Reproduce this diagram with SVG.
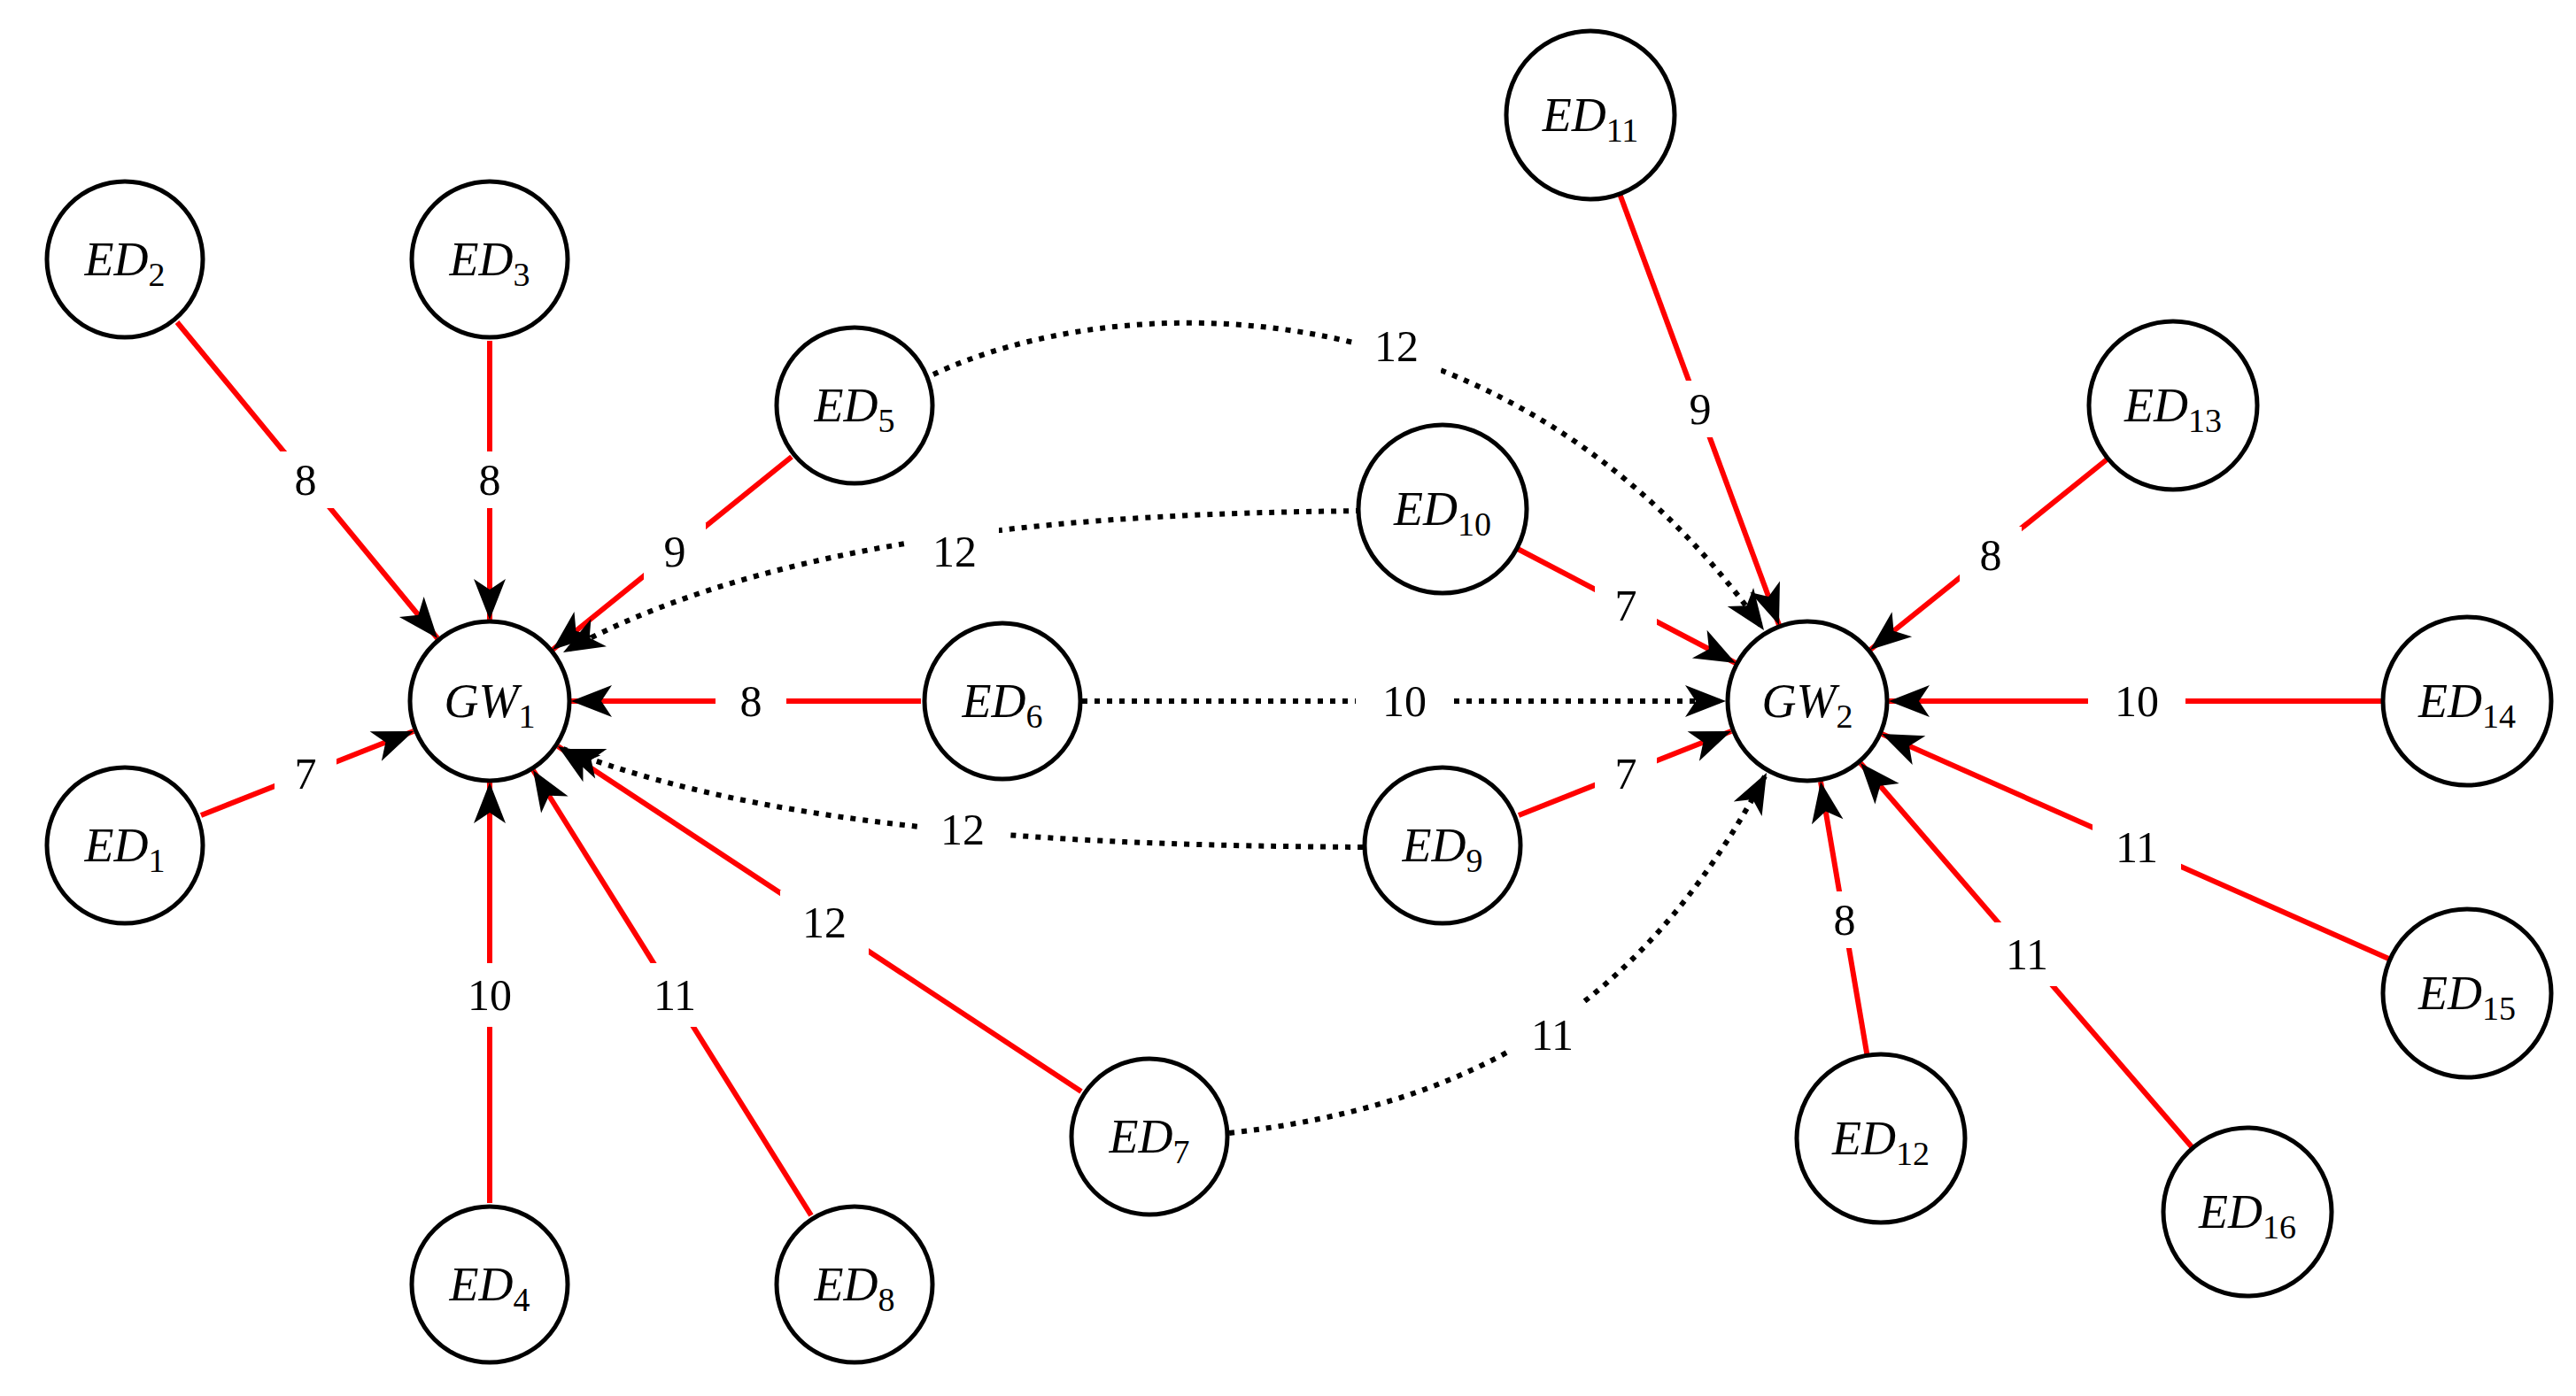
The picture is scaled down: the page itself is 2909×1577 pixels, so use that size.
<svg xmlns="http://www.w3.org/2000/svg" width="2909" height="1577" viewBox="0 0 2909 1577">
<style>
.n{fill:#fff;stroke:#000;stroke-width:5}
.t{font-family:"Liberation Serif",serif;font-style:italic;font-size:54px;text-anchor:middle}
.s{font-size:38px;font-style:normal}
.e{stroke:#f00;stroke-width:6;fill:none}
.d{stroke:#000;stroke-width:6;fill:none;stroke-dasharray:6 8}
.lb{fill:#fff}
.l{font-family:"Liberation Serif",serif;font-size:50px;text-anchor:middle}
</style>
<defs>
<marker id="a" markerUnits="userSpaceOnUse" markerWidth="60" markerHeight="50" viewBox="-50 -25 60 50" refX="0" refY="0" orient="auto"><path d="M0,0 L-46,-18 L-34,0 L-46,18 z" fill="#000"/></marker>
</defs>
<rect width="2909" height="1577" fill="#fff"/>
<g id="connectors">
<line class="e" x1="227" y1="921" x2="467" y2="826" marker-end="url(#a)"/>
<line class="e" x1="200" y1="364" x2="494" y2="721" marker-end="url(#a)"/>
<line class="e" x1="553" y1="385" x2="553" y2="700" marker-end="url(#a)"/>
<line class="e" x1="553" y1="1359" x2="553" y2="884" marker-end="url(#a)"/>
<line class="e" x1="894" y1="516" x2="624" y2="734" marker-end="url(#a)"/>
<line class="e" x1="1040" y1="792" x2="645" y2="792" marker-end="url(#a)"/>
<line class="e" x1="1221" y1="1233" x2="630" y2="843" marker-end="url(#a)"/>
<line class="e" x1="916" y1="1373" x2="602" y2="870" marker-end="url(#a)"/>
<line class="e" x1="1715" y1="921" x2="1955" y2="826" marker-end="url(#a)"/>
<line class="e" x1="1710" y1="618" x2="1960" y2="749" marker-end="url(#a)"/>
<line class="e" x1="1828" y1="216" x2="2009" y2="706" marker-end="url(#a)"/>
<line class="e" x1="2109" y1="1195" x2="2056" y2="883" marker-end="url(#a)"/>
<line class="e" x1="2383" y1="516" x2="2112" y2="734" marker-end="url(#a)"/>
<line class="e" x1="2694" y1="792" x2="2133" y2="792" marker-end="url(#a)"/>
<line class="e" x1="2702" y1="1085" x2="2125" y2="829" marker-end="url(#a)"/>
<line class="e" x1="2478" y1="1299" x2="2101" y2="862" marker-end="url(#a)"/>
<path class="d" d="M1054,423 C1250,330 1700,300 1992,712" marker-end="url(#a)"/>
<path class="d" d="M1537,577 C1300,580 900,590 636,737" marker-end="url(#a)"/>
<path class="d" d="M1539,957 C1300,955 900,950 636,846" marker-end="url(#a)"/>
<path class="d" d="M1222,792 L1949,792" marker-end="url(#a)"/>
<path class="d" d="M1388,1280 C1650,1250 1850,1150 1995,873" marker-end="url(#a)"/>
<g>
<rect class="lb" x="310" y="510" width="70" height="64"/><text class="l" x="345" y="559">8</text>
<rect class="lb" x="518" y="510" width="70" height="64"/><text class="l" x="553" y="559">8</text>
<rect class="lb" x="727" y="591" width="70" height="64"/><text class="l" x="762" y="640">9</text>
<rect class="lb" x="310" y="842" width="70" height="64"/><text class="l" x="345" y="891">7</text>
<rect class="lb" x="808" y="760" width="80" height="64"/><text class="l" x="848" y="809">8</text>
<rect class="lb" x="503" y="1088" width="100" height="72"/><text class="l" x="553" y="1141">10</text>
<rect class="lb" x="712" y="1088" width="100" height="72"/><text class="l" x="762" y="1141">11</text>
<rect class="lb" x="881" y="1006" width="100" height="72"/><text class="l" x="931" y="1059">12</text>
<rect class="lb" x="1028" y="587" width="100" height="72"/><text class="l" x="1078" y="640">12</text>
<rect class="lb" x="1037" y="901" width="100" height="72"/><text class="l" x="1087" y="954">12</text>
<rect class="lb" x="1527" y="355" width="100" height="72"/><text class="l" x="1577" y="408">12</text>
<rect class="lb" x="1531" y="756" width="110" height="72"/><text class="l" x="1586" y="809">10</text>
<rect class="lb" x="1703" y="1133" width="100" height="72"/><text class="l" x="1753" y="1186">11</text>
<rect class="lb" x="1801" y="652" width="70" height="64"/><text class="l" x="1836" y="701">7</text>
<rect class="lb" x="1801" y="842" width="70" height="64"/><text class="l" x="1836" y="891">7</text>
<rect class="lb" x="1885" y="430" width="70" height="64"/><text class="l" x="1920" y="479">9</text>
<rect class="lb" x="2213" y="595" width="70" height="64"/><text class="l" x="2248" y="644">8</text>
<rect class="lb" x="2358" y="756" width="110" height="72"/><text class="l" x="2413" y="809">10</text>
<rect class="lb" x="2363" y="921" width="100" height="72"/><text class="l" x="2413" y="974">11</text>
<rect class="lb" x="2048" y="1007" width="70" height="64"/><text class="l" x="2083" y="1056">8</text>
<rect class="lb" x="2239" y="1042" width="100" height="72"/><text class="l" x="2289" y="1095">11</text>
</g>
</g>
<g id="GW1"><circle class="n" cx="553" cy="792" r="90"/><text class="t" x="553" y="810">GW<tspan class="s" dy="12">1</tspan></text></g>
<g id="GW2"><circle class="n" cx="2041" cy="792" r="90"/><text class="t" x="2041" y="810">GW<tspan class="s" dy="12">2</tspan></text></g>
<g id="ED1"><circle class="n" cx="141" cy="955" r="88"/><text class="t" x="141" y="973">ED<tspan class="s" dy="12">1</tspan></text></g>
<g id="ED2"><circle class="n" cx="141" cy="293" r="88"/><text class="t" x="141" y="311">ED<tspan class="s" dy="12">2</tspan></text></g>
<g id="ED3"><circle class="n" cx="553" cy="293" r="88"/><text class="t" x="553" y="311">ED<tspan class="s" dy="12">3</tspan></text></g>
<g id="ED4"><circle class="n" cx="553" cy="1451" r="88"/><text class="t" x="553" y="1469">ED<tspan class="s" dy="12">4</tspan></text></g>
<g id="ED5"><circle class="n" cx="965" cy="458" r="88"/><text class="t" x="965" y="476">ED<tspan class="s" dy="12">5</tspan></text></g>
<g id="ED6"><circle class="n" cx="1132" cy="792" r="88"/><text class="t" x="1132" y="810">ED<tspan class="s" dy="12">6</tspan></text></g>
<g id="ED7"><circle class="n" cx="1298" cy="1284" r="88"/><text class="t" x="1298" y="1302">ED<tspan class="s" dy="12">7</tspan></text></g>
<g id="ED8"><circle class="n" cx="965" cy="1451" r="88"/><text class="t" x="965" y="1469">ED<tspan class="s" dy="12">8</tspan></text></g>
<g id="ED9"><circle class="n" cx="1629" cy="955" r="88"/><text class="t" x="1629" y="973">ED<tspan class="s" dy="12">9</tspan></text></g>
<g id="ED10"><circle class="n" cx="1629" cy="575" r="95"/><text class="t" x="1629" y="593">ED<tspan class="s" dy="12">10</tspan></text></g>
<g id="ED11"><circle class="n" cx="1796" cy="130" r="95"/><text class="t" x="1796" y="148">ED<tspan class="s" dy="12">11</tspan></text></g>
<g id="ED12"><circle class="n" cx="2124" cy="1286" r="95"/><text class="t" x="2124" y="1304">ED<tspan class="s" dy="12">12</tspan></text></g>
<g id="ED13"><circle class="n" cx="2454" cy="458" r="95"/><text class="t" x="2454" y="476">ED<tspan class="s" dy="12">13</tspan></text></g>
<g id="ED14"><circle class="n" cx="2786" cy="792" r="95"/><text class="t" x="2786" y="810">ED<tspan class="s" dy="12">14</tspan></text></g>
<g id="ED15"><circle class="n" cx="2786" cy="1122" r="95"/><text class="t" x="2786" y="1140">ED<tspan class="s" dy="12">15</tspan></text></g>
<g id="ED16"><circle class="n" cx="2538" cy="1369" r="95"/><text class="t" x="2538" y="1387">ED<tspan class="s" dy="12">16</tspan></text></g>
</svg>
